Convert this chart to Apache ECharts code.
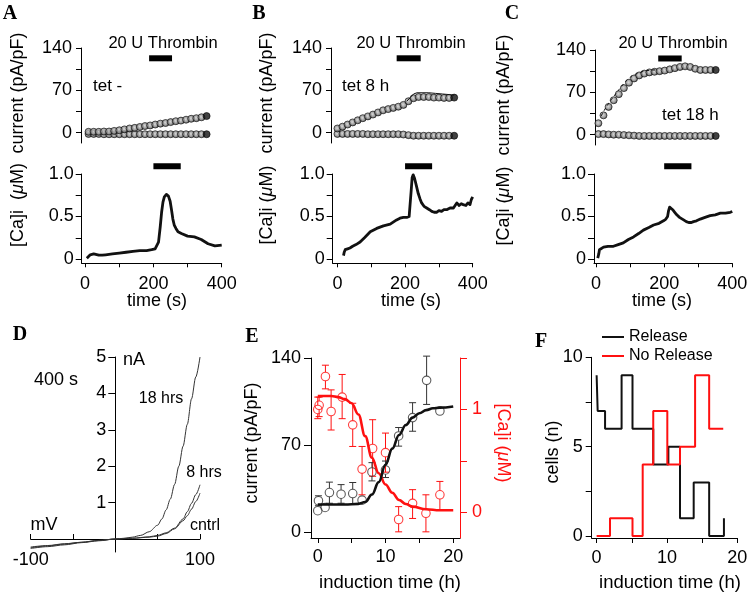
<!DOCTYPE html>
<html><head><meta charset="utf-8">
<script src="https://cdn.jsdelivr.net/npm/echarts@6/dist/echarts.min.js"></script>
<style>html,body{margin:0;padding:0;background:#fff}#c{width:750px;height:595px}</style>
</head><body><div id="c"></div>
<script>
// ---------- Panels A-C : current (pA/pF) vs time (s) ----------
const timeA = [10,25,40,55,70,85,100,115,130,145,160,175,190,205,220,235,250,265,280,295,310,325,340,355];
const outA  = [1.5,1.5,1.5,2,2,3,4,5.5,7,8,9.5,11,12,13.5,15,16,17.5,19,20,21.5,23,24,25.5,27.5];
const inA   = [-2,-2,-2,-2.5,-2.5,-2.5,-2.5,-2.5,-2.5,-2.5,-2.5,-2.5,-2.5,-2.5,-2.5,-2.5,-2.5,-2.5,-2.5,-2.5,-2.5,-2.5,-2.5,-2.5];
const timeB = [0,15,30,45,60,75,90,105,120,135,150,165,180,195,210,225,240,255,270,285,300,315,330,345];
const outB  = [7,10,13.5,17,20.5,24,27,30,33.5,37,39,41,43,46,52,57,59,59,59,58,58,57.5,57.5,58];
const inB   = [-2,-2,-2,-2,-2,-2,-2.5,-2.5,-2.5,-2.5,-2.5,-2.5,-2.5,-3,-4,-5,-5,-5,-5,-5,-5,-5,-5,-5];
const traceTB = [205,215,225,235,250,270,290,310,330,345];
const traceB  = [52,58,64,66,66,66,65,64,63,62];
const timeC = [7,22,37,52,67,82,97,112,127,142,157,172,187,202,217,232,247,262,277,292,307,322,337,352];
const outC  = [19,32,46,57,67,77,86,93,98,101,103,104,105,106,108,110,112,113,112,109,107,107,107,107];
const inC   = [1,1,0.5,0,0,-0.5,-1,-1.5,-2,-2,-2,-2,-2,-2,-2,-2,-2,-2,-2,-2,-2,-2,-2,-2];
const traceTC = [15,30,45,60,75,90,105,120,135,150,165,180];
const traceC  = [31,46,58,69,80,90,97,101,104,106,107,107];
// thrombin application (s) and bar level
const thrombinTopA = [187,254], thrombinTopB = [175,246], thrombinTopC = [183,252];
const thrombinTopLevel = [123,123,126];
const thrombinCa = [200,280], thrombinCaLevel = 1.09;
const curTicks = [0,35,70,105,140], curLabels = [0,70,140];

// ---------- Panels A-C : [Ca]i (uM) vs time (s) ----------
const caTA = [5,10,15,20,25,30,40,50,60,80,100,120,140,160,180,195,205,210,215,220,224,228,232,238,244,249,253,257,261,266,272,282,300,320,340,360,380,400];
const caA  = [0.01,0.03,0.05,0.07,0.06,0.05,0.045,0.045,0.05,0.06,0.07,0.08,0.09,0.1,0.1,0.11,0.12,0.14,0.2,0.38,0.55,0.67,0.73,0.76,0.74,0.68,0.58,0.47,0.4,0.36,0.32,0.3,0.27,0.26,0.23,0.18,0.155,0.165];
const caTB = [18,20,23,30,37,45,55,67,80,97,116,136,156,175,185,195,205,212,216,218,221,224,228,233,239,244,249,256,264,272,279,286,293,300,308,315,323,333,343,348,353,360,366,372,380,386,392,396,400];
const caB  = [0.04,0.08,0.11,0.12,0.13,0.15,0.17,0.2,0.25,0.32,0.36,0.39,0.41,0.46,0.48,0.49,0.49,0.5,0.52,0.8,0.96,0.99,0.95,0.87,0.77,0.71,0.66,0.62,0.6,0.58,0.56,0.55,0.55,0.57,0.56,0.58,0.58,0.6,0.6,0.63,0.66,0.63,0.65,0.64,0.63,0.66,0.64,0.7,0.73];
const caTC = [5,8,10,15,22,35,51,65,80,95,110,125,139,155,169,185,198,205,210,213,216,220,225,231,237,245,257,265,272,280,286,295,306,320,335,350,365,380,394,400];
const caC  = [0.01,0.06,0.11,0.13,0.14,0.15,0.15,0.17,0.19,0.23,0.26,0.3,0.34,0.37,0.4,0.42,0.45,0.47,0.5,0.57,0.61,0.6,0.58,0.55,0.52,0.49,0.46,0.44,0.43,0.43,0.44,0.45,0.47,0.49,0.51,0.52,0.54,0.54,0.55,0.56];
const caTicks = [0,0.25,0.5,0.75,1], caLabels = [0,0.5,1];
const timeTicks = [0,100,200,300,400], timeLabels = [0,200,400];

// ---------- Panel D : I-V curves at 400 s ----------
const mv18 = [-100,-80,-60,-40,-20,0,10,20,30,40,50,55,60,65,70,75,80,85,90,95,100];
const na18 = [-0.26,-0.21,-0.16,-0.1,-0.05,0,0.02,0.05,0.1,0.2,0.38,0.55,0.8,1.1,1.5,2.0,2.55,3.15,3.85,4.45,5.0];
const mv8  = [-100,-80,-60,-40,-20,0,20,40,50,60,70,80,85,90,95,100];
const na8  = [-0.24,-0.19,-0.14,-0.09,-0.04,0,0.02,0.06,0.1,0.17,0.3,0.55,0.75,0.98,1.22,1.49];
const mvCtrl = [-100,-80,-60,-40,-20,0,20,40,50,60,70,80,85,90,95,100];
const naCtrl = [-0.22,-0.18,-0.13,-0.09,-0.04,0,0.02,0.05,0.08,0.15,0.28,0.5,0.64,0.82,1.03,1.26];
const nATicks = [1,2,3,4,5], mvTicks = [-100,-50,50,100], mvLabels = [-100,100];

// ---------- Panel E : induction time (h) ----------
const eCurT  = [0,0.1,1.08,1.72,3.44,5.16,6.54,8.0,10.0,11.94,14.0,16.07,18.03];
const eCurV  = [17,25,19.6,31.6,30.3,30.8,25.5,48.2,49.8,77.2,92,122,97.3];
const eCurLo = [15,21,17,23,23,22,23,41,43.7,69,81,102.6,94.6];
const eCurHi = [19,29,22,40,38,39.7,27.6,55.7,57,84,104,141.5,100];
const eCaT  = [0,0.2,1.13,1.97,3.6,5.16,6.54,8.1,10,11.94,14,15.97,18.03];
const eCaV  = [1.0,1.04,1.32,0.98,1.12,0.85,0.42,0.62,0.58,-0.07,0.087,-0.01,0.17];
const eCaLo = [0.91,0.93,1.2,0.8,0.91,0.64,0.17,0.35,0.39,-0.19,-0.06,-0.19,0.02];
const eCaHi = [1.12,1.12,1.43,1.19,1.34,1.06,0.64,0.9,0.77,0.055,0.22,0.17,0.3];
const fitCurT = [0,2,4,6,7,8,9,10,11,12,13,14,15,16,17,18,20];
const fitCurV = [22,22,22,22.5,24,30,40,54,67,78,86,92,95.5,98,99.5,100,101];
const fitCaT  = [0,2,3,4,5,6,7,8,9,10,11,12,13,14,16,18,20];
const fitCaV  = [1.13,1.13,1.12,1.1,1.06,0.95,0.74,0.53,0.38,0.27,0.19,0.12,0.08,0.055,0.03,0.02,0.02];
const hTicks = [0,5,10,15,20], hLabels = [0,10,20];
const eCurTicks = [0,70,140], eCaTicks = [0,0.5,1,1.5], eCaLabels = [0,1];

// ---------- Panel F : cells (n) ----------
const relT = [0,0.15,1.2,3.55,5.1,8.05,10.2,11.85,13.8,16,18.1];
const relN = [9,7,6,9,6,4,5,1,3,0,1];
const noRelT = [0,1.9,5.1,6.55,8.05,10.05,11.85,14,16,18];
const noRelN = [0,1,0,4,7,4,5,9,6,6];
const nTicks = [0,2.5,5,7.5,10], nLabels = [0,5,10];

// ================= build =================
const FONT = '"Liberation Sans", Arial, Helvetica, sans-serif';
const RED = '#ff1010';
const zip = (a, b) => a.map((v, i) => [v, b[i]]);

function vAxis(o) {
  const c = o.color || '#000';
  return {
    type: 'value', gridIndex: o.grid, min: o.min, max: o.max, show: o.show !== false,
    position: o.position, offset: o.offset || 0,
    axisLine: { show: true, onZero: false, lineStyle: { color: c, width: 1 } },
    axisTick: { show: !!o.ticks, length: o.tickLen || 5, inside: !!o.inside, customValues: o.ticks, lineStyle: { color: c, width: 1 } },
    axisLabel: { show: !!o.labels, customValues: o.labels, margin: o.margin || 8, color: c, fontSize: o.fontSize || 18, fontFamily: FONT, formatter: o.fmt },
    splitLine: { show: false }
  };
}
const caFmt = v => (v === 0 ? '0' : v.toFixed(1));

const grids = [
  { left: 81, top: 48, width: 141, height: 95 },
  { left: 81.7, top: 174, width: 140, height: 89.3 },
  { left: 331, top: 48, width: 141.8, height: 95 },
  { left: 332.7, top: 174, width: 140, height: 89.3 },
  { left: 595, top: 50, width: 137, height: 95 },
  { left: 594, top: 174, width: 138.3, height: 89.3 },
  { left: 30.7, top: 357, width: 169.3, height: 195 },
  { left: 311, top: 358, width: 149, height: 180 },
  { left: 591.7, top: 357.3, width: 145.6, height: 180.7 }
].map(g => Object.assign({ containLabel: false, outerBoundsMode: 'none' }, g));

const xAxis = [
  vAxis({ grid: 0, min: -12, max: 400, show: false }),
  vAxis({ grid: 1, min: -10, max: 400, ticks: timeTicks, labels: timeLabels, tickLen: 4, margin: 12 }),
  vAxis({ grid: 2, min: -19, max: 400, show: false }),
  vAxis({ grid: 3, min: -14, max: 400, ticks: timeTicks, labels: timeLabels, tickLen: 4, margin: 12 }),
  vAxis({ grid: 4, min: -3, max: 400, show: false }),
  vAxis({ grid: 5, min: -6, max: 400, ticks: timeTicks, labels: timeLabels, tickLen: 4, margin: 12 }),
  // D: x axis sits at 0 nA (13 px above the grid bottom)
  vAxis({ grid: 6, min: -100, max: 100, ticks: mvTicks, labels: mvLabels, inside: true, tickLen: 5, margin: 12, offset: -13 }),
  vAxis({ grid: 7, min: -1, max: 21, ticks: hTicks, labels: hLabels, tickLen: 5, margin: 10 }),
  vAxis({ grid: 8, min: -0.7, max: 20, ticks: hTicks, labels: hLabels, tickLen: 5, margin: 11 })
];
const yAxis = [
  vAxis({ grid: 0, min: -17, max: 140, ticks: curTicks, labels: curLabels, tickLen: 5, margin: 9 }),
  vAxis({ grid: 1, min: -0.05, max: 1, ticks: caTicks, labels: caLabels, tickLen: 6, margin: 8, fmt: caFmt }),
  vAxis({ grid: 2, min: -17, max: 140, ticks: curTicks, labels: curLabels, tickLen: 5, margin: 9 }),
  vAxis({ grid: 3, min: -0.05, max: 1, ticks: caTicks, labels: caLabels, tickLen: 6, margin: 8, fmt: caFmt }),
  vAxis({ grid: 4, min: -17, max: 140, ticks: curTicks, labels: curLabels, tickLen: 5, margin: 9 }),
  vAxis({ grid: 5, min: -0.05, max: 1, ticks: caTicks, labels: caLabels, tickLen: 6, margin: 8, fmt: caFmt }),
  // D: y axis sits at 0 mV (84.6 px right of the grid left edge)
  vAxis({ grid: 6, min: -0.357, max: 5, ticks: nATicks, labels: nATicks, tickLen: 7, margin: 9, offset: -84.6 }),
  vAxis({ grid: 7, min: -5, max: 140, ticks: eCurTicks, labels: eCurTicks, tickLen: 7, margin: 10 }),
  vAxis({ grid: 7, min: -0.25, max: 1.5, ticks: eCaTicks, labels: eCaLabels, tickLen: 7, margin: 12, color: RED, position: 'right' }),
  vAxis({ grid: 8, min: -0.11, max: 10, ticks: nTicks, labels: nLabels, tickLen: 6, margin: 9 })
];

const bead = {
  color: { type: 'radial', x: 0.45, y: 0.45, r: 0.6, colorStops: [
    { offset: 0, color: '#cfcfcf' }, { offset: 0.5, color: '#8c8c8c' }, { offset: 1, color: '#1c1c1c' } ] },
  borderColor: '#0c0c0c', borderWidth: 0.8
};
function beads(xi, ts, vs) {
  return {
    type: 'scatter', xAxisIndex: xi, yAxisIndex: xi, symbolSize: 7, itemStyle: bead, silent: true,
    data: ts.map((t, i) => i === ts.length - 1
      ? { value: [t, vs[i]], itemStyle: { color: '#111', borderColor: '#000' } } : [t, vs[i]])
  };
}
function bar(xi, range, level) {
  return { type: 'line', xAxisIndex: xi, yAxisIndex: xi, data: [[range[0], level], [range[1], level]],
    symbol: 'none', clip: false, silent: true, lineStyle: { width: 6, color: '#000', cap: 'butt' } };
}
function trace(xi, ts, vs, w, dash) {
  return { type: 'line', xAxisIndex: xi, yAxisIndex: xi, data: zip(ts, vs), symbol: 'none', silent: true,
    lineStyle: { width: w, color: '#111', type: dash || 'solid', join: 'round' } };
}
function errRender(color) {
  return function (params, api) {
    const x = api.value(0), y = api.value(1), lo = api.value(2), hi = api.value(3);
    const pc = api.coord([x, y]), ph = api.coord([x, hi]), pl = api.coord([x, lo]);
    const r = 4.3, w = 3.5, ch = [];
    const st = { stroke: color, lineWidth: 1 };
    if (ph[1] < pc[1] - r) {
      ch.push({ type: 'line', shape: { x1: pc[0], y1: pc[1] - r, x2: pc[0], y2: ph[1] }, style: st });
      ch.push({ type: 'line', shape: { x1: pc[0] - w, y1: ph[1], x2: pc[0] + w, y2: ph[1] }, style: st });
    }
    if (pl[1] > pc[1] + r) {
      ch.push({ type: 'line', shape: { x1: pc[0], y1: pc[1] + r, x2: pc[0], y2: pl[1] }, style: st });
      ch.push({ type: 'line', shape: { x1: pc[0] - w, y1: pl[1], x2: pc[0] + w, y2: pl[1] }, style: st });
    }
    return { type: 'group', children: ch };
  };
}

const series = [
  // A
  beads(0, timeA, inA), beads(0, timeA, outA), bar(0, thrombinTopA, thrombinTopLevel[0]),
  trace(1, caTA, caA, 2.8), bar(1, thrombinCa, thrombinCaLevel),
  // B
  trace(2, traceTB, traceB, 1), beads(2, timeB, inB), beads(2, timeB, outB), bar(2, thrombinTopB, thrombinTopLevel[1]),
  trace(3, caTB, caB, 2.8), bar(3, thrombinCa, thrombinCaLevel),
  // C
  trace(4, traceTC, traceC, 1, [3, 3]), beads(4, timeC, inC), beads(4, timeC, outC), bar(4, thrombinTopC, thrombinTopLevel[2]),
  trace(5, caTC, caC, 2.8), bar(5, thrombinCa, thrombinCaLevel),
  // D
  { type: 'line', xAxisIndex: 6, yAxisIndex: 6, data: zip(mvCtrl, naCtrl), symbol: 'none', smooth: 0.3, smoothMonotone: 'x', lineStyle: { width: 1, color: '#333' } },
  { type: 'line', xAxisIndex: 6, yAxisIndex: 6, data: zip(mv8, na8), symbol: 'none', smooth: 0.3, smoothMonotone: 'x', lineStyle: { width: 1, color: '#333' } },
  { type: 'line', xAxisIndex: 6, yAxisIndex: 6, data: zip(mv18, na18), symbol: 'none', smooth: 0.3, smoothMonotone: 'x', lineStyle: { width: 1, color: '#333' } },
  // E
  { type: 'line', xAxisIndex: 7, yAxisIndex: 8, data: zip(fitCaT, fitCaV), symbol: 'none', smooth: 0.4, smoothMonotone: 'x', lineStyle: { width: 2.6, color: RED } },
  { type: 'line', xAxisIndex: 7, yAxisIndex: 7, data: zip(fitCurT, fitCurV), symbol: 'none', smooth: 0.4, smoothMonotone: 'x', lineStyle: { width: 2.6, color: '#111' } },
  { type: 'custom', xAxisIndex: 7, yAxisIndex: 8, renderItem: errRender(RED), encode: { x: 0, y: 1 },
    data: eCaT.map((t, i) => [t, eCaV[i], eCaLo[i], eCaHi[i]]) },
  { type: 'custom', xAxisIndex: 7, yAxisIndex: 7, renderItem: errRender('#333'), encode: { x: 0, y: 1 },
    data: eCurT.map((t, i) => [t, eCurV[i], eCurLo[i], eCurHi[i]]) },
  { type: 'scatter', xAxisIndex: 7, yAxisIndex: 8, data: zip(eCaT, eCaV), symbolSize: 8.5,
    itemStyle: { color: 'rgba(255,255,255,0)', borderColor: RED, borderWidth: 1.1 } },
  { type: 'scatter', xAxisIndex: 7, yAxisIndex: 7, data: zip(eCurT, eCurV), symbolSize: 8.5,
    itemStyle: { color: 'rgba(255,255,255,0)', borderColor: '#333', borderWidth: 1.1 } },
  // F
  { name: 'Release', type: 'line', xAxisIndex: 8, yAxisIndex: 9, data: zip(relT, relN), step: 'end', symbol: 'none', lineStyle: { width: 2, color: '#111' }, itemStyle: { color: '#111' } },
  { name: 'No Release', type: 'line', xAxisIndex: 8, yAxisIndex: 9, data: zip(noRelT, noRelN), step: 'end', symbol: 'none', lineStyle: { width: 2, color: RED }, itemStyle: { color: RED } }
];

function txt(x, y, text, o) {
  o = o || {};
  return {
    type: 'text', x: x, y: y, rotation: o.rot || 0, z: 100, silent: true,
    style: {
      text: text, fill: o.color || '#000',
      font: (o.weight || 'normal') + ' ' + (o.size || 18) + 'px ' + (o.family || FONT),
      align: o.align || 'center', verticalAlign: 'middle',
      textAlign: o.align || 'center', textVerticalAlign: 'middle',
      rich: o.rich
    }
  };
}
const L = { size: 20, weight: 'bold', family: '"Liberation Serif", "Times New Roman", serif' };
const R90 = Math.PI / 2;
const italic = { i: { fontStyle: 'italic', fontSize: 18, fontFamily: FONT } };
const italicR = { i: { fontStyle: 'italic', fontSize: 18, fontFamily: FONT, fill: RED, color: RED } };
const graphic = [
  txt(10, 14, 'A', L), txt(259, 14, 'B', L), txt(512, 14, 'C', L),
  txt(20, 335, 'D', L), txt(252, 337, 'E', L), txt(541, 342, 'F', L),
  txt(163, 43, '20 U Thrombin', { size: 16.5 }), txt(411, 43, '20 U Thrombin', { size: 16.5 }), txt(673, 43, '20 U Thrombin', { size: 16.5 }),
  txt(93, 86, 'tet -', { size: 17, align: 'left' }), txt(342, 86, 'tet 8 h', { size: 17, align: 'left' }), txt(662, 115, 'tet 18 h', { size: 17, align: 'left' }),
  txt(18, 93, 'current (pA/pF)', { rot: R90 }), txt(267, 93, 'current (pA/pF)', { rot: R90 }), txt(504, 95, 'current (pA/pF)', { rot: R90 }),
  txt(18, 205, '[Ca]i  ({i|μ}M)', { rot: R90, rich: italic }), txt(267, 205, '[Ca]i ({i|μ}M)', { rot: R90, rich: italic }), txt(504, 206, '[Ca]i ({i|μ}M)', { rot: R90, rich: italic }),
  txt(157, 301, 'time (s)'), txt(411, 301, 'time (s)'), txt(662, 301, 'time (s)'),
  txt(56, 380, '400 s', { size: 18 }), txt(134, 360, 'nA', { size: 18 }), txt(44, 525, 'mV', { size: 18 }),
  txt(161, 399, '18 hrs', { size: 16 }), txt(204, 473, '8 hrs', { size: 16 }), txt(205, 526, 'cntrl', { size: 16 }),
  txt(252, 443, 'current (pA/pF)', { rot: R90 }),
  txt(503, 443, '[Ca]i ({i|μ}M)', { rot: -R90, color: RED, rich: italicR }),
  txt(390, 583, 'induction time (h)', { size: 18.5 }),
  txt(553, 452, 'cells (n)', { rot: R90 }),
  txt(670, 583, 'induction time (h)', { size: 18.5 })
];

const chart = echarts.init(document.getElementById('c'));
chart.setOption({
  animation: false,
  backgroundColor: '#fff',
  grid: grids, xAxis: xAxis, yAxis: yAxis, series: series, graphic: graphic,
  legend: {
    data: ['Release', 'No Release'], orient: 'vertical', left: 602, top: 329, padding: 0,
    itemWidth: 22, itemHeight: 2, itemGap: 3, icon: 'rect', selectedMode: false,
    textStyle: { fontSize: 16, fontFamily: FONT, color: '#000' }
  }
});
</script></body></html>
